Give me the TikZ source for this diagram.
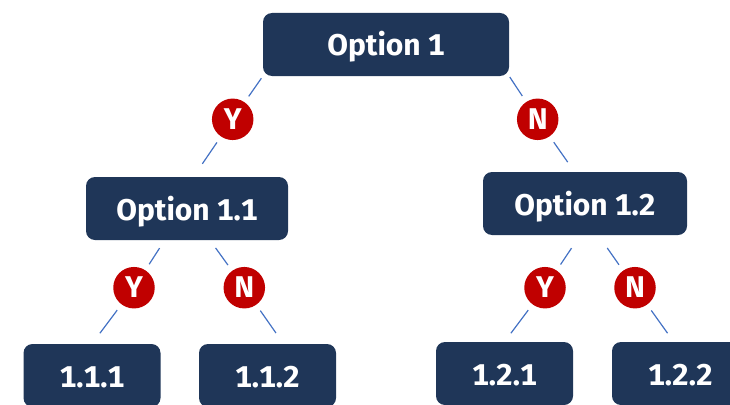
\documentclass[tikz,border=0pt]{standalone}
\usepackage{fontspec}
\setmainfont{Fira Sans}[Numbers=Monospaced]
\usepackage{xcolor}
\usepackage{tikz}
\definecolor{boxblue}{HTML}{1F3658}
\definecolor{ansred}{HTML}{C00000}
\definecolor{lineblue}{HTML}{4472C4}

\begin{document}
\begin{tikzpicture}[x=1pt,y=-1pt,
  Box/.style={fill=boxblue, rounded corners=9pt, minimum height=63pt, inner sep=0pt, text=white, font=\fontsize{30}{30}\selectfont\bfseries, text height=23pt, text depth=0pt},
  Ans/.style={circle, fill=ansred, minimum size=41.5pt, inner sep=0pt, text=white, font=\fontsize{30}{30}\selectfont\bfseries, text height=20.5pt, text depth=0pt},
  Link/.style={lineblue, line width=1.2pt}]
\useasboundingbox (0,0) rectangle (730,404);
\node[Box, minimum width=246pt] (Opt1) at (386,44.5) {Option 1};
\node[Box, minimum width=202pt] (Opt11) at (187,208.5) {Option 1.1};
\node[Box, minimum width=204pt] (Opt12) at (585,203.5) {Option 1.2};
\foreach \nm/\x/\y/\t in {L111/92/375.5/1.1.1, L112/267.5/375.5/1.1.2, L121/504.5/373.5/1.2.1, L122/680.5/373.5/1.2.2}
  \node[Box, minimum width=137pt] (\nm) at (\x,\y) {\t};
\foreach \nm/\x/\y/\t in {Y1/232.7/119.3/Y, N1/537.7/119.3/N, Y11/134/287.7/Y, N11/244.3/287.7/N, Y12/545/287.7/Y, N12/635/287.7/N}
  \node[Ans] (\nm) at (\x,\y) {\t};
\draw[Link, shorten <=2.5pt, shorten >=7pt] (Opt1.south west) -- (Y1);
\draw[Link, shorten <=7pt, shorten >=15.7pt] (Y1) -- ([xshift=6.5pt]Opt11.north);
\draw[Link, shorten <=1pt, shorten >=7pt] (Opt1.south east) -- (N1);
\draw[Link, shorten <=7pt, shorten >=11.8pt] (N1) -- ([xshift=-10.5pt]Opt12.north);
\draw[Link, shorten <=9.4pt, shorten >=7pt] ([xshift=-22.3pt]Opt11.south) -- (Y11);
\draw[Link, shorten <=9.5pt, shorten >=7pt] ([xshift=23pt]Opt11.south) -- (N11);
\draw[Link, shorten <=7pt, shorten >=13.2pt] (Y11) -- (L111.north);
\draw[Link, shorten <=7pt, shorten >=13.2pt] (N11) -- ([xshift=16pt]L112.north);
\draw[Link, shorten <=15.6pt, shorten >=7pt] ([xshift=-4.8pt]Opt12.south) -- (Y12);
\draw[Link, shorten <=15.6pt, shorten >=7pt] ([xshift=13.3pt]Opt12.south) -- (N12);
\draw[Link, shorten <=7pt, shorten >=10.7pt] (Y12) -- (L121.north);
\draw[Link, shorten <=7pt, shorten >=10.6pt] (N12) -- ([xshift=-6.8pt]L122.north);
\end{tikzpicture}
\end{document}
